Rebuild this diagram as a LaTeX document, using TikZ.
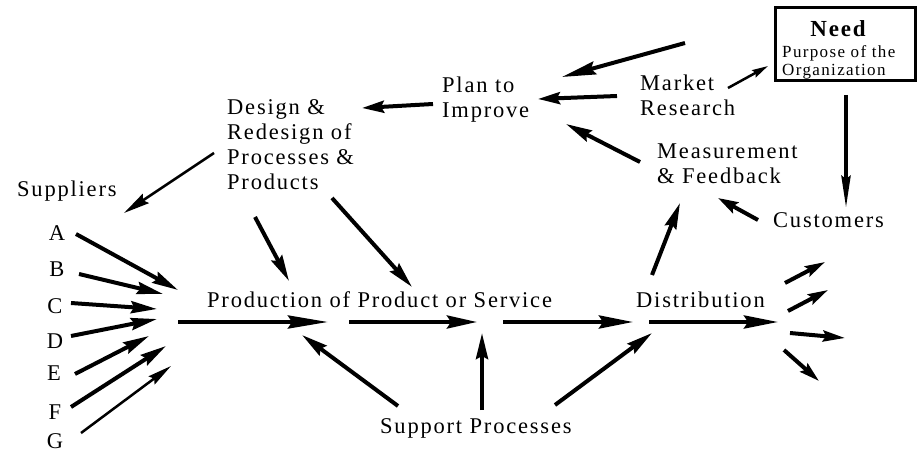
\documentclass[tikz,border=0pt]{standalone}
\usepackage{fontspec}
\setmainfont{Liberation Serif}[LetterSpace=8]
\usetikzlibrary{arrows.meta}
\tikzset{
  lbl/.style={inner sep=0pt, font=\fontsize{22.5}{25}\selectfont},
  mlbl/.style={lbl, align=left, anchor=north west},
  small/.style={inner sep=0pt, font=\fontsize{17}{21}\selectfont},
  arr/.style={line width=4pt, -{Stealth[length=26pt,width=12pt,inset=3pt]}},
  arrl/.style={line width=4pt, -{Stealth[length=34pt,width=13pt,inset=4pt]}},
  arrt/.style={line width=2.5pt, -{Stealth[length=24pt,width=10pt,inset=3pt]}},
  needbox/.style={draw, line width=3pt, inner sep=0pt, minimum width=140pt, minimum height=73pt},
}
\begin{document}
\begin{tikzpicture}[x=1pt,y=-1pt]
\useasboundingbox (0,0) rectangle (918,454);
% text nodes
\node[mlbl] (design) at (227,99) {Design \&\\Redesign of\\Processes \&\\Products};
\node[lbl, anchor=base west] (suppliers) at (17,197) {Suppliers};
\node[mlbl] (plan) at (442,77) {Plan to\\Improve};
\node[mlbl] (market) at (640,75) {Market\\Research};
\node[mlbl] (meas) at (657,144) {Measurement\\\& Feedback};
\node[lbl, anchor=base west] (cust) at (773,228) {Customers};
\node[lbl, anchor=base west] (prod) at (207,308) {Production of Product or Service};
\node[lbl, anchor=base west] (dist) at (636,308) {Distribution};
\node[lbl, anchor=base west] (support) at (380,433) {Support Processes};
\node[lbl, anchor=base] (sa) at (57,241) {A};
\node[lbl, anchor=base] (sb) at (57,277) {B};
\node[lbl, anchor=base] (sc) at (55,313) {C};
\node[lbl, anchor=base] (sd) at (55,348) {D};
\node[lbl, anchor=base] (se) at (54,380) {E};
\node[lbl, anchor=base] (sf) at (55,419) {F};
\node[lbl, anchor=base] (sg) at (55,448) {G};
% need box
\node[needbox] (need) at (845.5,44) {};
\node[inner sep=0pt, anchor=base, font=\fontsize{23}{25}\selectfont\bfseries] (needt) at (838,37) {Need};
\node[small, anchor=base west] (purp) at (782,58) {Purpose of the};
\node[small, anchor=base west] (org) at (782,76) {Organization};
% arrow end points
\coordinate (t1) at (685,43);   \coordinate (t2) at (562,77);
\coordinate (mp1) at (617,96);  \coordinate (mp2) at (538,99);
\coordinate (mn1) at (728,88);  \coordinate (mn2) at (768,66);
\coordinate (fp1) at (640,162); \coordinate (fp2) at (566,124);
\coordinate (nc1) at (846,95);  \coordinate (nc2) at (846,208);
\coordinate (cm1) at (758,220); \coordinate (cm2) at (718,198);
\coordinate (pd1) at (433,104); \coordinate (pd2) at (362,108);
\coordinate (ds1) at (214,153); \coordinate (ds2) at (124,213);
\coordinate (dl1) at (255,217); \coordinate (dl2) at (289,281);
\coordinate (dr1) at (332,198); \coordinate (dr2) at (412,287);
\coordinate (a1) at (76,234);  \coordinate (a2) at (178,290);
\coordinate (b1) at (79,274);  \coordinate (b2) at (163,294);
\coordinate (c1) at (71,303);  \coordinate (c2) at (157,309);
\coordinate (d1) at (71,336);  \coordinate (d2) at (157,319);
\coordinate (e1) at (75,374);  \coordinate (e2) at (149,336);
\coordinate (f1) at (71,407);  \coordinate (f2) at (166,346);
\coordinate (g1) at (81,433);  \coordinate (g2) at (171,366);
\coordinate (m1) at (178,322); \coordinate (m2) at (328,322);
\coordinate (m3) at (349,322); \coordinate (m4) at (477,322);
\coordinate (m5) at (503,322); \coordinate (m6) at (633,322);
\coordinate (m7) at (649,322); \coordinate (m8) at (778,322);
\coordinate (sp1) at (398,406); \coordinate (sp2) at (302,335);
\coordinate (sm1) at (482,410); \coordinate (sm2) at (482,333);
\coordinate (sd1) at (555,405); \coordinate (sd2) at (652,333);
\coordinate (dm1) at (652,275); \coordinate (dm2) at (680,203);
\coordinate (o1a) at (785,283); \coordinate (o1b) at (825,262);
\coordinate (o2a) at (788,311); \coordinate (o2b) at (828,290);
\coordinate (o3a) at (790,333); \coordinate (o3b) at (845,338);
\coordinate (o4a) at (784,350); \coordinate (o4b) at (819,381);
% arrows
\draw[arrl] (t1) -- (t2);
\draw[arr, -{Stealth[length=22pt,width=12pt,inset=3pt]}] (mp1) -- (mp2);
\draw[line width=2.5pt, -{Stealth[length=16pt,width=8pt,inset=2pt]}] (mn1) -- (mn2);
\draw[arr] (fp1) -- (fp2);
\draw[arrl, -{Stealth[length=32pt,width=9pt,inset=3pt]}] (nc1) -- (nc2);
\draw[arr, -{Stealth[length=20pt,width=12pt,inset=3pt]}] (cm1) -- (cm2);
\draw[arr, -{Stealth[length=22pt,width=12pt,inset=3pt]}] (pd1) -- (pd2);
\draw[arrt, -{Stealth[length=26pt,width=11pt,inset=3pt]}] (ds1) -- (ds2);
\draw[arr] (dl1) -- (dl2);
\draw[arr] (dr1) -- (dr2);
\draw[arr] (a1) -- (a2);
\draw[arr] (b1) -- (b2);
\draw[arr] (c1) -- (c2);
\draw[arr] (d1) -- (d2);
\draw[arr] (e1) -- (e2);
\draw[arr] (f1) -- (f2);
\draw[arrt] (g1) -- (g2);
\draw[arrl, -{Stealth[length=40pt,width=13pt,inset=4pt]}] (m1) -- (m2);
\draw[arrl, -{Stealth[length=30pt,width=13pt,inset=4pt]}] (m3) -- (m4);
\draw[arrl] (m5) -- (m6);
\draw[arrl] (m7) -- (m8);
\draw[arr] (sp1) -- (sp2);
\draw[arr] (sm1) -- (sm2);
\draw[arr] (sd1) -- (sd2);
\draw[arr] (dm1) -- (dm2);
\draw[arr, -{Stealth[length=20pt,width=11pt,inset=3pt]}] (o1a) -- (o1b);
\draw[arr, -{Stealth[length=20pt,width=11pt,inset=3pt]}] (o2a) -- (o2b);
\draw[arr, -{Stealth[length=22pt,width=11pt,inset=3pt]}] (o3a) -- (o3b);
\draw[arr, -{Stealth[length=20pt,width=11pt,inset=3pt]}] (o4a) -- (o4b);
\end{tikzpicture}
\end{document}
